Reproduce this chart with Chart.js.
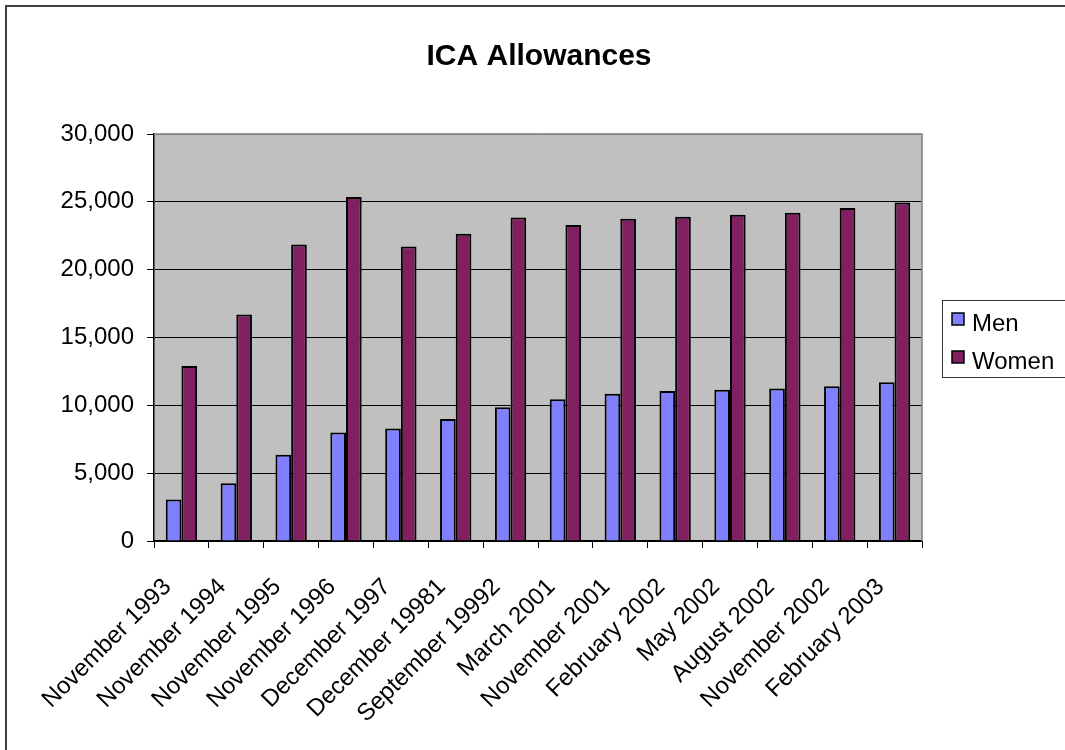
<!DOCTYPE html>
<html lang="en">
<head>
<meta charset="UTF-8">
<title>ICA Allowances</title>
<script src="https://cdn.jsdelivr.net/npm/chart.js"></script>
<style>
    body {
        margin: 0;
        background: #fff;
    }
    #wrap {
        width: 1065px;
        height: 750px;
        position: relative;
    }
</style>
</head>
<body>
<div id="wrap"><canvas id="chart" width="1065" height="750"></canvas></div>
<script>
    // chart data
    const categories = ['November 1993', 'November 1994', 'November 1995', 'November 1996',
        'December 1997', 'December 19981', 'September 19992', 'March 2001', 'November 2001',
        'February 2002', 'May 2002', 'August 2002', 'November 2002', 'February 2003'];
    const menValues = [3050, 4250, 6350, 8000, 8300, 9000, 9850, 10450, 10850, 11050, 11150, 11250, 11400, 11700];
    const womenValues = [12900, 16700, 21850, 25350, 21700, 22650, 23850, 23300, 23750, 23900, 24050, 24200, 24550, 24950];
    const seriesNames = ['Men', 'Women'];
    const yMax = 30000;
    const yStep = 5000;

    const FONT = 'Liberation Sans, Arial, sans-serif';

    // grey plot area + frame, title, legend box
    const decorations = {
        id: 'decorations',
        beforeDraw(chart) {
            const { ctx, chartArea: a } = chart;
            ctx.save();
            ctx.fillStyle = '#c0c0c0';
            ctx.fillRect(a.left, a.top, a.right - a.left, a.bottom - a.top);
            // outer frame (only top/left visible)
            ctx.strokeStyle = '#404040';
            ctx.lineWidth = 2;
            ctx.strokeRect(6, 6, 1100, 800);
            ctx.restore();
        },
        afterDatasetsDraw(chart) {
            const { ctx, chartArea: a } = chart;
            ctx.save();
            ctx.strokeStyle = '#808080';
            ctx.lineWidth = 1.5;
            ctx.beginPath();
            ctx.moveTo(a.left, a.top);
            ctx.lineTo(a.right, a.top);
            ctx.lineTo(a.right, a.bottom);
            ctx.stroke();
            ctx.restore();
        },
        afterDraw(chart) {
            const ctx = chart.ctx;
            ctx.save();
            // title
            ctx.fillStyle = '#000';
            ctx.font = 'bold 30px ' + FONT;
            ctx.textAlign = 'center';
            ctx.textBaseline = 'middle';
            ctx.fillText('ICA Allowances', 539, 57);

            // legend
            ctx.strokeStyle = '#333';
            ctx.lineWidth = 1;
            ctx.strokeRect(942.5, 300.5, 140, 77);
            ctx.font = '24px ' + FONT;
            ctx.textAlign = 'left';
            chart.data.datasets.forEach((ds, i) => {
                const y = 313 + i * 38;
                ctx.fillStyle = ds.backgroundColor;
                ctx.fillRect(952, y, 12, 12);
                ctx.lineWidth = 1.5;
                ctx.strokeStyle = '#000';
                ctx.strokeRect(952, y, 12, 12);
                ctx.fillStyle = '#000';
                ctx.fillText(ds.label, 972, y + 11);
            });
            ctx.restore();
        }
    };

    new Chart(document.getElementById('chart'), {
        type: 'bar',
        data: {
            labels: categories,
            datasets: [{
                label: seriesNames[0],
                data: menValues,
                backgroundColor: '#8080ff',
                borderColor: '#000',
                borderWidth: 2,
                categoryPercentage: 0.5714,
                barPercentage: 1
            }, {
                label: seriesNames[1],
                data: womenValues,
                backgroundColor: '#802060',
                borderColor: '#000',
                borderWidth: 2,
                categoryPercentage: 0.5714,
                barPercentage: 1
            }]
        },
        options: {
            responsive: false,
            animation: false,
            devicePixelRatio: 1,
            layout: { padding: { left: 0, top: 134, right: 143, bottom: 0 } },
            plugins: {
                legend: { display: false },
                title: { display: false },
                tooltip: { enabled: false }
            },
            scales: {
                x: {
                    afterFit(scale) { scale.height = 209; },
                    grid: {
                        drawOnChartArea: false,
                        drawTicks: true,
                        tickLength: 7,
                        color: '#000'
                    },
                    border: { color: '#000', width: 1.5 },
                    ticks: {
                        minRotation: 45,
                        maxRotation: 45,
                        autoSkip: false,
                        padding: 25,
                        labelOffset: -14,
                        color: '#000',
                        font: { family: FONT, size: 24 }
                    }
                },
                y: {
                    min: 0,
                    max: yMax,
                    afterFit(scale) { scale.width = 154; },
                    grid: {
                        color: ctx => ctx.tick && ctx.tick.value === yMax ? '#808080' : '#000',
                        tickColor: '#000',
                        tickLength: 7,
                        lineWidth: 1
                    },
                    border: { color: '#000', width: 1.5 },
                    ticks: {
                        stepSize: yStep,
                        padding: 13,
                        color: '#000',
                        font: { family: FONT, size: 24 },
                        callback: v => v.toLocaleString('en-US')
                    }
                }
            }
        },
        plugins: [decorations]
    });
</script>
</body>
</html>
